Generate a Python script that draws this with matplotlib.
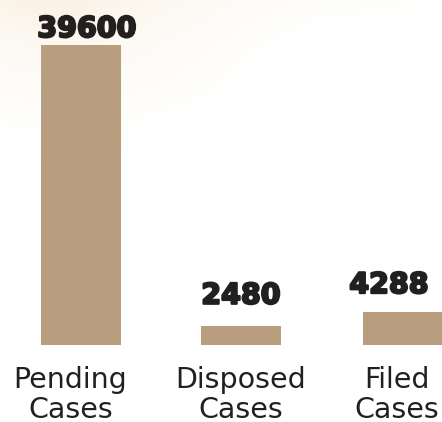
import numpy as np
import matplotlib
matplotlib.use("Agg")
import matplotlib.pyplot as plt
import matplotlib.patheffects as pe

categories = ["Pending\nCases", "Disposed\nCases", "Filed\nCases"]
case_counts = [39600, 2480, 4288]
value_labels = ["39600", "2480", "4288"]

BAR_COLOR = "#b89d7f"
TEXT_COLOR = "#221f1f"

W, H = 442, 422
fig = plt.figure(figsize=(W / 100, H / 100), dpi=100)
fig.patch.set_facecolor("white")

# soft warm haze in the upper-left corner of the background
bg = fig.add_axes([0, 0, 1, 1], zorder=-10)
yy, xx = np.mgrid[0:H, 0:W]
d = np.sqrt(((xx - 60) / 260.0) ** 2 + ((yy - 10) / 150.0) ** 2)
w = np.clip(1 - d, 0, 1) ** 1.6
top = np.clip(1 - yy / 60.0, 0, 1) ** 2 * np.clip(1 - xx / 500.0, 0, 1)
w = np.clip(0.8 * w + 0.4 * top, 0, 1)
warm = np.array([251, 243, 231]) / 255.0
img = np.ones((H, W, 3)) * (1 - w[..., None]) + warm * w[..., None]
bg.imshow(img, aspect="auto", extent=[0, W, H, 0])
bg.axis("off")

# plotting area: bar baseline at y=344 px, tallest bar reaching y=45 px
base_px, top_px = 344.5, 45
ax = fig.add_axes([0, (H - base_px) / H, 1, (base_px - top_px) / H])
ax.patch.set_alpha(0)
x_pos = np.array([0, 1, 2.0125])
ax.bar(x_pos, case_counts, width=0.5, color=BAR_COLOR, linewidth=0)
ax.set_xlim(-81 / 160, (W - 81) / 160)
ax.set_ylim(0, max(case_counts))
ax.axis("off")

# value labels above the bars (offsets in pixels)
value_offsets = [(6, 8), (0, 22), (-14, 19)]
heavy = [pe.withStroke(linewidth=1.6, foreground=TEXT_COLOR)]
for xp, v, lab, (dx, dy) in zip(x_pos, case_counts, value_labels, value_offsets):
    ax.annotate(lab, xy=(xp, v), xytext=(dx, dy), textcoords="offset pixels",
                ha="center", va="baseline", fontsize=20.5, fontweight="bold",
                family="DejaVu Sans", color=TEXT_COLOR, path_effects=heavy,
                annotation_clip=False)

# category labels under the baseline
cat_offsets = [-10.5, 0, -6]
for xp, cat, dx in zip(x_pos, categories, cat_offsets):
    ax.annotate(cat, xy=(xp, 0), xytext=(dx, -73), textcoords="offset pixels",
                ha="center", va="baseline", fontsize=20.5, family="DejaVu Sans",
                color=TEXT_COLOR, linespacing=1.07, multialignment="center",
                annotation_clip=False)

fig.savefig("out.png", dpi=100)
